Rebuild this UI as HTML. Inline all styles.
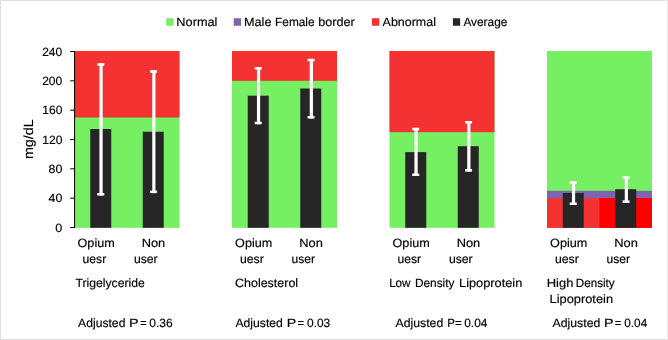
<!DOCTYPE html>
<html lang="en"><head><meta charset="utf-8"><title>Lipid profile chart</title>
<style>html,body{margin:0;padding:0;background:#fff}svg{display:block;will-change:transform}text{font-family:"Liberation Sans", sans-serif;fill:#000;text-rendering:geometricPrecision;stroke:#000;stroke-width:.16px;stroke-linejoin:round}</style></head><body>
<svg width="668" height="340" viewBox="0 0 668 340">
<rect x="0" y="0" width="668" height="340" fill="#fff"/>
<rect x="0" y="0" width="668" height="1" fill="#e0e0e0"/><rect x="0" y="339" width="668" height="1" fill="#dddddd"/><rect x="0" y="0" width="1" height="340" fill="#dedede"/><rect x="667" y="0" width="1" height="340" fill="#ececec"/>
<rect x="166.25" y="18.25" width="7.25" height="7.5" fill="#77ef63"/>
<rect x="233.75" y="18.25" width="7.25" height="7.5" fill="#7e63ae"/>
<rect x="372.00" y="18.25" width="7.25" height="7.5" fill="#f53232"/>
<rect x="452.90" y="18.25" width="7.25" height="7.5" fill="#262626"/>
<g>
<rect x="74.50" y="51.00" width="105.00" height="176.80" fill="#77ef63"/>
<rect x="74.50" y="51.00" width="105.00" height="66.50" fill="#f53232"/>
<rect x="90.25" y="129.00" width="21" height="98.80" fill="#262626"/>
<rect x="99.45" y="63.25" width="3.2" height="132.25" fill="#fff"/>
<rect x="97.25" y="63.25" width="7" height="2.5" fill="#fff"/>
<rect x="97.25" y="193.00" width="7" height="2.5" fill="#fff"/>
<rect x="142.75" y="131.75" width="21" height="96.05" fill="#262626"/>
<rect x="152.25" y="70.25" width="3.2" height="122.85" fill="#fff"/>
<rect x="150.05" y="70.25" width="7" height="2.5" fill="#fff"/>
<rect x="150.05" y="190.60" width="7" height="2.5" fill="#fff"/>
</g>
<g>
<rect x="232.00" y="51.00" width="105.00" height="176.80" fill="#77ef63"/>
<rect x="232.00" y="51.00" width="105.00" height="29.83" fill="#f53232"/>
<rect x="247.75" y="95.70" width="21" height="132.10" fill="#262626"/>
<rect x="256.95" y="67.10" width="3.2" height="57.15" fill="#fff"/>
<rect x="254.75" y="67.10" width="7" height="2.5" fill="#fff"/>
<rect x="254.75" y="121.75" width="7" height="2.5" fill="#fff"/>
<rect x="300.25" y="88.50" width="21" height="139.30" fill="#262626"/>
<rect x="309.75" y="58.80" width="3.2" height="59.70" fill="#fff"/>
<rect x="307.55" y="58.80" width="7" height="2.5" fill="#fff"/>
<rect x="307.55" y="116.00" width="7" height="2.5" fill="#fff"/>
</g>
<g>
<rect x="389.50" y="51.00" width="105.00" height="176.80" fill="#77ef63"/>
<rect x="389.50" y="51.00" width="105.00" height="81.17" fill="#f53232"/>
<rect x="405.25" y="152.10" width="21" height="75.70" fill="#262626"/>
<rect x="414.45" y="127.80" width="3.2" height="48.20" fill="#fff"/>
<rect x="412.25" y="127.80" width="7" height="2.5" fill="#fff"/>
<rect x="412.25" y="173.50" width="7" height="2.5" fill="#fff"/>
<rect x="457.75" y="146.20" width="21" height="81.60" fill="#262626"/>
<rect x="467.25" y="121.00" width="3.2" height="50.60" fill="#fff"/>
<rect x="465.05" y="121.00" width="7" height="2.5" fill="#fff"/>
<rect x="465.05" y="169.10" width="7" height="2.5" fill="#fff"/>
</g>
<g>
<rect x="547.00" y="51.00" width="105.00" height="176.80" fill="#77ef63"/>
<rect x="547.00" y="190.83" width="105.00" height="36.97" fill="#7e63ae"/>
<rect x="547.00" y="198.17" width="105.00" height="29.63" fill="#f53232"/>
<rect x="599.50" y="198.17" width="52.50" height="29.63" fill="#ff0000"/>
<rect x="562.75" y="193.00" width="21" height="34.80" fill="#262626"/>
<rect x="571.95" y="181.30" width="3.2" height="23.70" fill="#fff"/>
<rect x="569.75" y="181.30" width="7" height="2.5" fill="#fff"/>
<rect x="569.75" y="202.50" width="7" height="2.5" fill="#fff"/>
<rect x="615.25" y="189.20" width="21" height="38.60" fill="#262626"/>
<rect x="624.75" y="176.30" width="3.2" height="26.60" fill="#fff"/>
<rect x="622.55" y="176.30" width="7" height="2.5" fill="#fff"/>
<rect x="622.55" y="200.40" width="7" height="2.5" fill="#fff"/>
</g>
<rect x="74.1" y="51.00" width="1" height="177.00" fill="#000"/>
<rect x="70.2" y="227.00" width="4.4" height="1" fill="#000"/>
<rect x="70.2" y="197.67" width="4.4" height="1" fill="#000"/>
<rect x="70.2" y="168.33" width="4.4" height="1" fill="#000"/>
<rect x="70.2" y="139.00" width="4.4" height="1" fill="#000"/>
<rect x="70.2" y="109.67" width="4.4" height="1" fill="#000"/>
<rect x="70.2" y="80.33" width="4.4" height="1" fill="#000"/>
<rect x="70.2" y="51.00" width="4.4" height="1" fill="#000"/>
<text y="25.50" font-size="12.00"><tspan x="176.36" textLength="41.08" lengthAdjust="spacingAndGlyphs">Normal</tspan></text>
<text y="25.50" font-size="12.00"><tspan x="243.98" textLength="27.49" lengthAdjust="spacingAndGlyphs">Male</tspan> <tspan x="275.06" textLength="39.52" lengthAdjust="spacingAndGlyphs">Female</tspan> <tspan x="318.21" textLength="36.53" lengthAdjust="spacingAndGlyphs">border</tspan></text>
<text y="25.50" font-size="12.00"><tspan x="382.57" textLength="53.42" lengthAdjust="spacingAndGlyphs">Abnormal</tspan></text>
<text y="25.50" font-size="12.00"><tspan x="463.39" textLength="43.98" lengthAdjust="spacingAndGlyphs">Average</tspan></text>
<text y="55.60" font-size="12.00"><tspan x="42.17" textLength="20.03" lengthAdjust="spacingAndGlyphs">240</tspan></text>
<text y="84.93" font-size="12.00"><tspan x="42.17" textLength="20.03" lengthAdjust="spacingAndGlyphs">200</tspan></text>
<text y="114.27" font-size="12.00"><tspan x="42.27" textLength="20.09" lengthAdjust="spacingAndGlyphs">160</tspan></text>
<text y="143.60" font-size="12.00"><tspan x="42.27" textLength="20.09" lengthAdjust="spacingAndGlyphs">120</tspan></text>
<text y="172.93" font-size="12.00"><tspan x="48.58" textLength="13.80" lengthAdjust="spacingAndGlyphs">80</tspan></text>
<text y="202.27" font-size="12.00"><tspan x="48.61" textLength="13.75" lengthAdjust="spacingAndGlyphs">40</tspan></text>
<text y="231.60" font-size="12.00"><tspan x="55.19" textLength="7.03" lengthAdjust="spacingAndGlyphs">0</tspan></text>
<text x="33.5" y="159.08" font-size="13.20" transform="rotate(-90 33.5 159.08)" textLength="39.69" lengthAdjust="spacingAndGlyphs">mg/dL</text>
<text y="246.90" font-size="12.00"><tspan x="77.56" textLength="37.21" lengthAdjust="spacingAndGlyphs">Opium</tspan></text>
<text y="246.90" font-size="12.00"><tspan x="141.66" textLength="23.55" lengthAdjust="spacingAndGlyphs">Non</tspan></text>
<text y="263.40" font-size="12.00"><tspan x="82.57" textLength="23.67" lengthAdjust="spacingAndGlyphs">uesr</tspan></text>
<text y="263.40" font-size="12.00"><tspan x="133.91" textLength="23.78" lengthAdjust="spacingAndGlyphs">user</tspan></text>
<text y="246.90" font-size="12.00"><tspan x="235.13" textLength="37.21" lengthAdjust="spacingAndGlyphs">Opium</tspan></text>
<text y="246.90" font-size="12.00"><tspan x="299.32" textLength="23.59" lengthAdjust="spacingAndGlyphs">Non</tspan></text>
<text y="263.40" font-size="12.00"><tspan x="239.90" textLength="23.85" lengthAdjust="spacingAndGlyphs">uesr</tspan></text>
<text y="263.40" font-size="12.00"><tspan x="291.59" textLength="23.40" lengthAdjust="spacingAndGlyphs">user</tspan></text>
<text y="246.90" font-size="12.00"><tspan x="392.56" textLength="37.21" lengthAdjust="spacingAndGlyphs">Opium</tspan></text>
<text y="246.90" font-size="12.00"><tspan x="456.66" textLength="23.55" lengthAdjust="spacingAndGlyphs">Non</tspan></text>
<text y="263.40" font-size="12.00"><tspan x="397.58" textLength="23.58" lengthAdjust="spacingAndGlyphs">uesr</tspan></text>
<text y="263.40" font-size="12.00"><tspan x="448.91" textLength="23.78" lengthAdjust="spacingAndGlyphs">user</tspan></text>
<text y="246.90" font-size="12.00"><tspan x="550.13" textLength="37.21" lengthAdjust="spacingAndGlyphs">Opium</tspan></text>
<text y="246.90" font-size="12.00"><tspan x="614.32" textLength="23.59" lengthAdjust="spacingAndGlyphs">Non</tspan></text>
<text y="263.40" font-size="12.00"><tspan x="554.90" textLength="23.85" lengthAdjust="spacingAndGlyphs">uesr</tspan></text>
<text y="263.40" font-size="12.00"><tspan x="606.59" textLength="23.40" lengthAdjust="spacingAndGlyphs">user</tspan></text>
<text y="287.00" font-size="12.00"><tspan x="75.47" textLength="69.39" lengthAdjust="spacingAndGlyphs">Trigelyceride</tspan></text>
<text y="287.00" font-size="12.00"><tspan x="235.09" textLength="63.00" lengthAdjust="spacingAndGlyphs">Cholesterol</tspan></text>
<text y="287.00" font-size="12.00"><tspan x="389.14" textLength="21.43" lengthAdjust="spacingAndGlyphs">Low</tspan> <tspan x="414.91" textLength="39.58" lengthAdjust="spacingAndGlyphs">Density</tspan> <tspan x="459.02" textLength="63.31" lengthAdjust="spacingAndGlyphs">Lipoprotein</tspan></text>
<text y="287.00" font-size="12.00"><tspan x="546.70" textLength="26.75" lengthAdjust="spacingAndGlyphs">High</tspan> <tspan x="575.87" textLength="38.81" lengthAdjust="spacingAndGlyphs">Density</tspan></text>
<text y="303.20" font-size="12.00"><tspan x="549.52" textLength="63.53" lengthAdjust="spacingAndGlyphs">Lipoprotein</tspan></text>
<text y="327.40" font-size="12.00"><tspan x="78.12" textLength="47.28" lengthAdjust="spacingAndGlyphs">Adjusted</tspan> <tspan x="129.12" textLength="9.37" lengthAdjust="spacingAndGlyphs">P</tspan> <tspan x="140.33" textLength="6.40" lengthAdjust="spacingAndGlyphs">=</tspan> <tspan x="149.34" textLength="23.38" lengthAdjust="spacingAndGlyphs">0.36</tspan></text>
<text y="327.40" font-size="12.00"><tspan x="235.42" textLength="47.41" lengthAdjust="spacingAndGlyphs">Adjusted</tspan> <tspan x="286.70" textLength="9.27" lengthAdjust="spacingAndGlyphs">P</tspan> <tspan x="297.40" textLength="6.54" lengthAdjust="spacingAndGlyphs">=</tspan> <tspan x="307.01" textLength="23.27" lengthAdjust="spacingAndGlyphs">0.03</tspan></text>
<text y="327.40" font-size="12.00"><tspan x="552.57" textLength="47.72" lengthAdjust="spacingAndGlyphs">Adjusted</tspan> <tspan x="603.97" textLength="9.26" lengthAdjust="spacingAndGlyphs">P</tspan> <tspan x="614.83" textLength="6.42" lengthAdjust="spacingAndGlyphs">=</tspan> <tspan x="624.23" textLength="23.00" lengthAdjust="spacingAndGlyphs">0.04</tspan></text>
<text y="327.40" font-size="12.00"><tspan x="395.45" textLength="47.83" lengthAdjust="spacingAndGlyphs">Adjusted</tspan> <tspan x="447.19" textLength="14.46" lengthAdjust="spacingAndGlyphs">P=</tspan> <tspan x="464.24" textLength="23.23" lengthAdjust="spacingAndGlyphs">0.04</tspan></text>
</svg></body></html>
